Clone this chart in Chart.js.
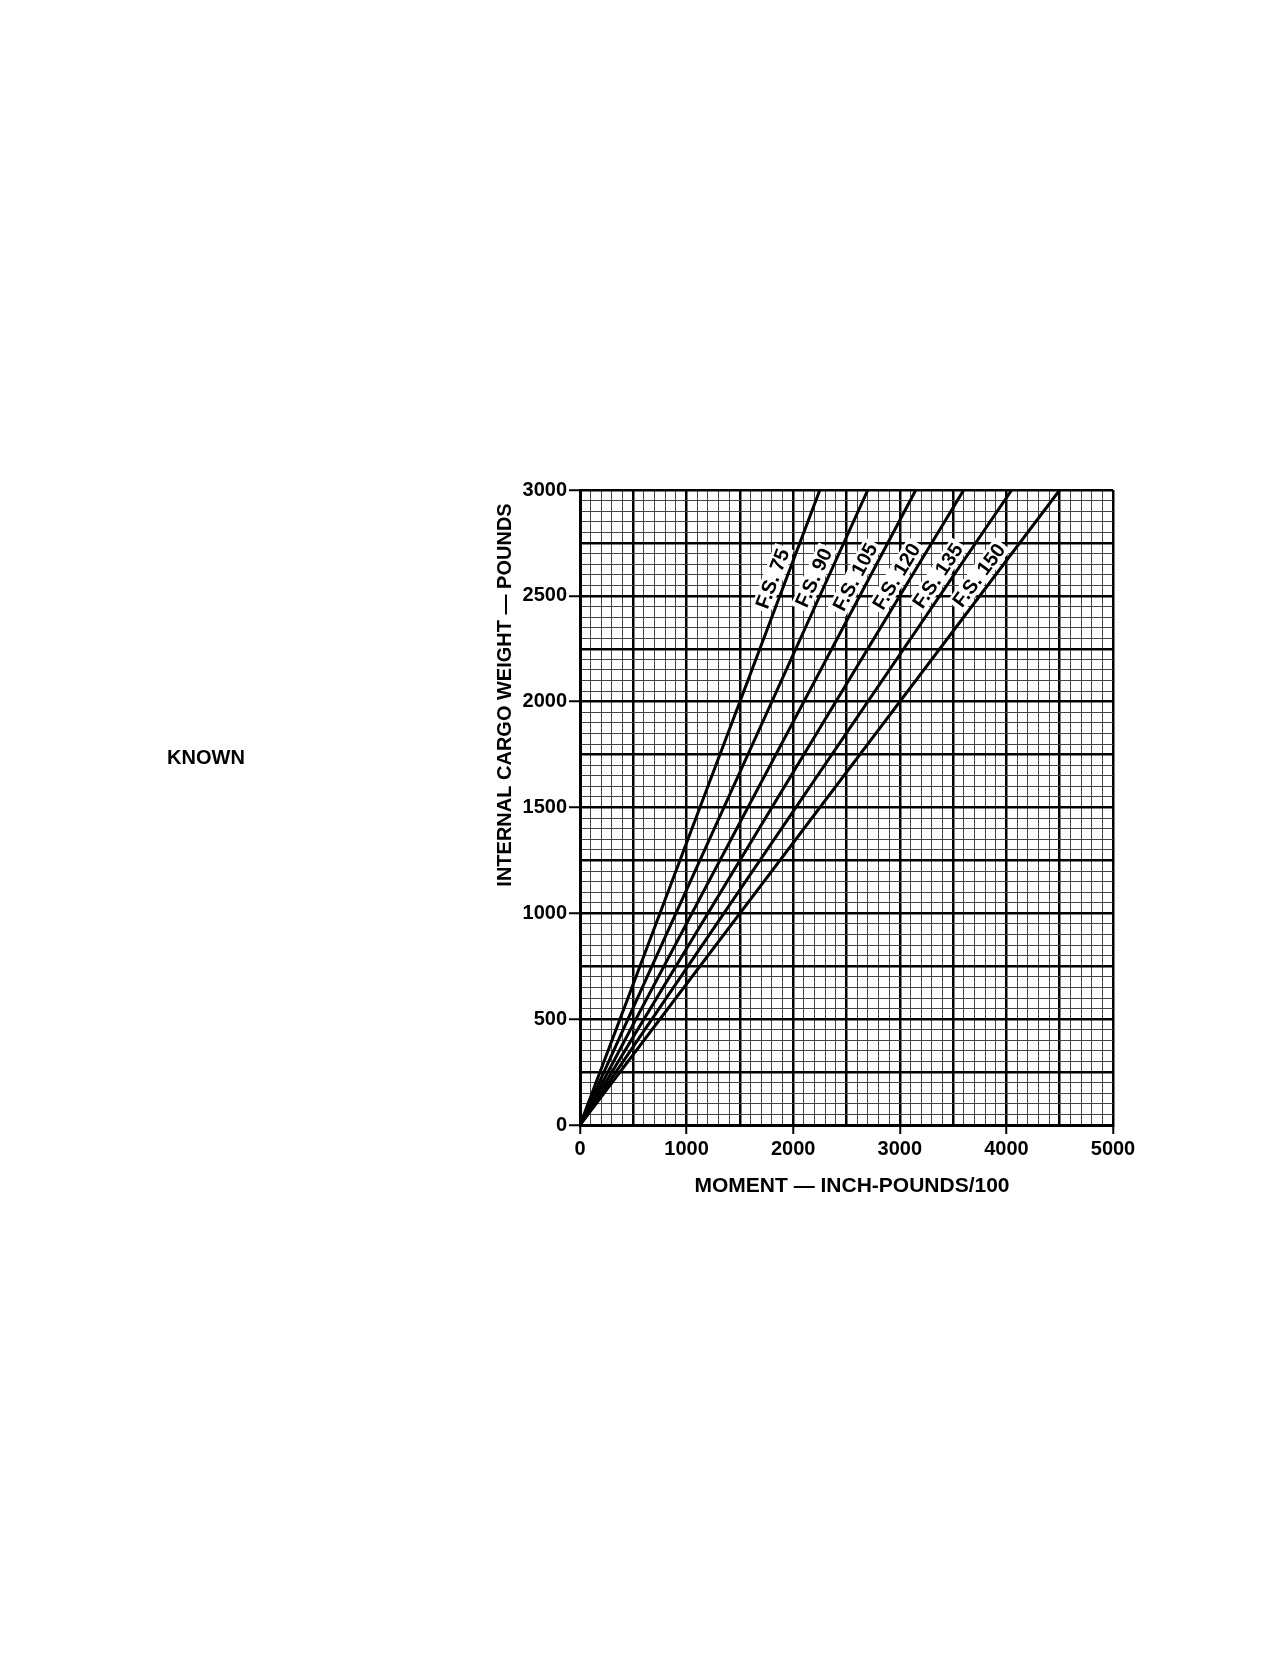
<!DOCTYPE html>
<html>
<head>
<meta charset="utf-8">
<title>Internal cargo moment chart</title>
<script src="https://cdn.jsdelivr.net/npm/chart.js@4.4.1/dist/chart.umd.min.js"></script>
<style>
  body { margin: 0; background: #fff; }
  canvas { display: block; }
</style>
</head>
<body>
<canvas id="chart" width="1283" height="1658"></canvas>
<script>
// Fuselage stations and the moment each line reaches at the top of the chart (3000 lb)
const stationLabels = ['F.S. 75', 'F.S. 90', 'F.S. 105', 'F.S. 120', 'F.S. 135', 'F.S. 150'];
const startWeight = 0;
const startMoment = 0;
const topWeight = 3000;
const topMoments = [2250, 2700, 3150, 3600, 4050, 4500];
// weight at which the station labels sit along each line
const labelWeight = 2560;

const fontFamily = '"Liberation Sans", Arial, Helvetica, sans-serif';
Chart.defaults.font.family = fontFamily;
Chart.defaults.color = '#000';

const ctx = document.getElementById('chart').getContext('2d');

const datasets = stationLabels.map((label, i) => ({
  label: label,
  data: [
    { x: startMoment, y: startWeight },
    { x: topMoments[i], y: topWeight },
  ],
  borderColor: '#000',
  borderWidth: 3,
  pointRadius: 0,
  tension: 0,
  fill: false,
}));

// station labels drawn along each line, on a white patch
const stationLabelPlugin = {
  id: 'stationLabels',
  afterDatasetsDraw(chart) {
    const c = chart.ctx;
    const xs = chart.scales.x;
    const ys = chart.scales.y;
    c.save();
    c.font = 'bold 20px ' + fontFamily;
    c.textAlign = 'center';
    c.textBaseline = 'middle';
    topMoments.forEach((m, i) => {
      const x0 = xs.getPixelForValue(startMoment), y0 = ys.getPixelForValue(startWeight);
      const x1 = xs.getPixelForValue(m), y1 = ys.getPixelForValue(topWeight);
      const len = Math.hypot(x1 - x0, y1 - y0);
      const dx = (x1 - x0) / len, dy = (y1 - y0) / len;
      const px = xs.getPixelForValue(m * labelWeight / topWeight);
      const py = ys.getPixelForValue(labelWeight);
      const off = 13;
      const cx = px + dy * off, cy = py - dx * off;
      const w = c.measureText(stationLabels[i]).width;
      c.save();
      c.translate(cx, cy);
      c.rotate(Math.atan2(dy, dx));
      c.fillStyle = '#fff';
      c.fillRect(-w / 2 - 3, -10, w + 6, 20);
      c.fillStyle = '#000';
      c.fillText(stationLabels[i], 0, 1);
      c.restore();
    });
    c.restore();
  }
};

// axis titles and the side note
const textPlugin = {
  id: 'pageText',
  afterDraw(chart) {
    const c = chart.ctx;
    c.save();
    c.fillStyle = '#000';
    c.textAlign = 'center';
    c.textBaseline = 'middle';
    c.font = 'bold 21px ' + fontFamily;
    c.fillText('MOMENT \u2014 INCH-POUNDS/100', 852, 1186);
    c.font = 'bold 20px ' + fontFamily;
    c.save();
    c.translate(505, 695);
    c.rotate(-Math.PI / 2);
    c.fillText('INTERNAL CARGO WEIGHT \u2014 POUNDS', 0, 0);
    c.restore();
    c.font = 'bold 20px ' + fontFamily;
    c.fillText('KNOWN', 206, 758);
    c.restore();
  }
};

new Chart(ctx, {
  type: 'line',
  data: { datasets: datasets },
  plugins: [stationLabelPlugin, textPlugin],
  options: {
    responsive: false,
    animation: false,
    layout: { padding: { left: 488, right: 170, top: 490, bottom: 400 } },
    plugins: {
      legend: { display: false },
      tooltip: { enabled: false },
    },
    scales: {
      x: {
        type: 'linear',
        min: 0,
        max: 5000,
        afterFit: (scale) => { scale.height = 133; },
        ticks: {
          stepSize: 100,
          autoSkip: false,
          maxRotation: 0,
          padding: 3,
          font: { size: 20, weight: 'bold' },
          callback: (v) => (v % 1000 === 0 ? String(v) : ''),
        },
        grid: {
          color: (c) => (c.tick && c.tick.value % 500 === 0 ? '#000' : '#444'),
          lineWidth: (c) => (c.tick && c.tick.value % 500 === 0 ? 2.5 : 1),
          tickColor: (c) => (c.tick && c.tick.value % 1000 === 0 ? '#000' : 'rgba(0,0,0,0)'),
          tickWidth: 2,
          tickLength: 9,
        },
        border: { color: '#000', width: 3 },
      },
      y: {
        type: 'linear',
        min: 0,
        max: 3000,
        afterFit: (scale) => { scale.width = 92; },
        ticks: {
          stepSize: 50,
          autoSkip: false,
          padding: 2,
          font: { size: 20, weight: 'bold' },
          callback: (v) => (v % 500 === 0 ? String(v) : ''),
        },
        grid: {
          color: (c) => (c.tick && c.tick.value % 250 === 0 ? '#000' : '#444'),
          lineWidth: (c) => (c.tick && c.tick.value % 250 === 0 ? 2.5 : 1),
          tickColor: (c) => (c.tick && c.tick.value % 500 === 0 ? '#000' : 'rgba(0,0,0,0)'),
          tickWidth: 2,
          tickLength: 11,
        },
        border: { color: '#000', width: 3 },
      },
    },
  },
});
</script>
</body>
</html>
